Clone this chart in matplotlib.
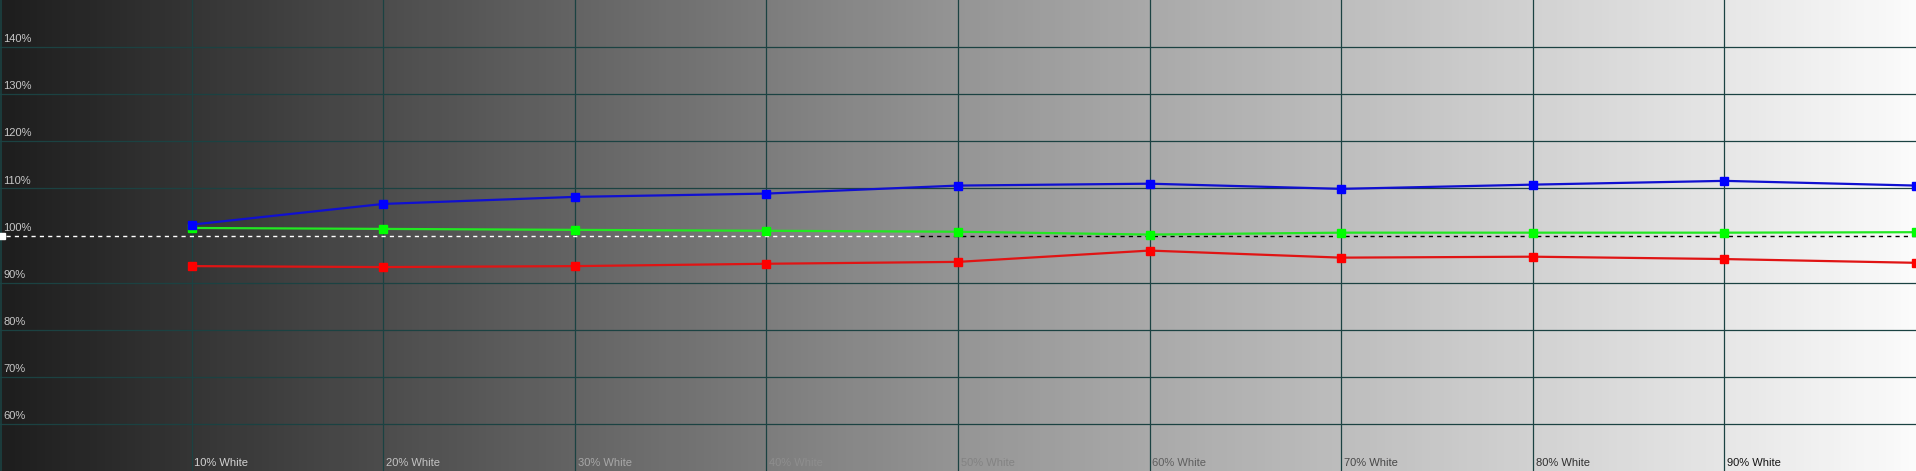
import numpy as np
import matplotlib.pyplot as plt
from matplotlib.colors import LinearSegmentedColormap

# stimulus levels (% white) and measured RGB balance (%)
levels = [10, 20, 30, 40, 50, 60, 70, 80, 90, 100]
red = [93.5, 93.3, 93.5, 94.0, 94.4, 96.8, 95.3, 95.5, 95.0, 94.2]
green = [101.6, 101.4, 101.2, 101.0, 100.8, 100.2, 100.6, 100.6, 100.6, 100.7]
blue = [102.3, 106.7, 108.2, 108.9, 110.6, 111.0, 109.9, 110.8, 111.6, 110.6]

y_ticks = [60, 70, 80, 90, 100, 110, 120, 130, 140]
x_labels = ['10% White', '20% White', '30% White', '40% White', '50% White',
            '60% White', '70% White', '80% White', '90% White']

# label colours follow the grey background
x_label_colors = ['#d4d4d4', '#c4c4c4', '#a8a8a8', '#8e8e8e', '#838383',
                  '#5e5e5e', '#474747', '#303030', '#151515']

fig = plt.figure(figsize=(19.16, 4.71), dpi=100)
ax = fig.add_axes([0, 0, 1, 1])
ax.set_xlim(0, 100)
ax.set_ylim(50, 150)
ax.axis('off')

# horizontal grey ramp behind the chart
ramp = LinearSegmentedColormap.from_list(
    'ramp', [(0.0, '#1e1e1e'), (0.1, '#353535'), (0.3, '#646464'),
             (0.5, '#959595'), (0.7, '#bdbdbd'), (0.9, '#e6e6e6'),
             (1.0, '#fbfbfb')])
ax.imshow(np.linspace(0, 1, 512)[None, :], cmap=ramp, aspect='auto',
          extent=[0, 100, 50, 150], zorder=0)

grid_c = '#1b4242'
for v in y_ticks:
    if v != 100:
        ax.axhline(v, color=grid_c, lw=0.9, zorder=1)
for x in levels[:-1]:
    ax.axvline(x, color=grid_c, lw=0.9, zorder=1)
ax.axvline(0.05, color=grid_c, lw=1.2, zorder=1)

# 100% reference line, white on the dark half and black on the light half
ax.plot([0.3, 48], [100, 100], color='white', lw=1, ls=(0, (3, 3)), zorder=2)
ax.plot([48, 100], [100, 100], color='black', lw=1, ls=(0, (3, 3)), zorder=2)
ax.plot([0.08], [100], marker='s', ms=5, color='white', zorder=3, clip_on=False)

for v in y_ticks:
    ax.text(0.17, v + 0.6, f'{v}%', color='#c8c8c8', fontsize=8,
            family='Liberation Sans', ha='left', va='bottom', zorder=4)
for x, lab, c in zip(levels, x_labels, x_label_colors):
    ax.text(x + 0.15, 50.6, lab, color=c, fontsize=8,
            family='Liberation Sans', ha='left', va='bottom', zorder=4)

ax.plot(levels, red, color='#e01414', lw=1.6, marker='s', ms=5.5,
        mfc='#ff0000', mec='#ff0000', zorder=5, clip_on=True)
ax.plot(levels, green, color='#22e822', lw=1.6, marker='s', ms=5.5,
        mfc='#00ff00', mec='#00ff00', zorder=6, clip_on=True)
ax.plot(levels, blue, color='#1010d0', lw=1.6, marker='s', ms=5.5,
        mfc='#0000ff', mec='#0000ff', zorder=7, clip_on=True)

fig.savefig('out.png', dpi=100)
